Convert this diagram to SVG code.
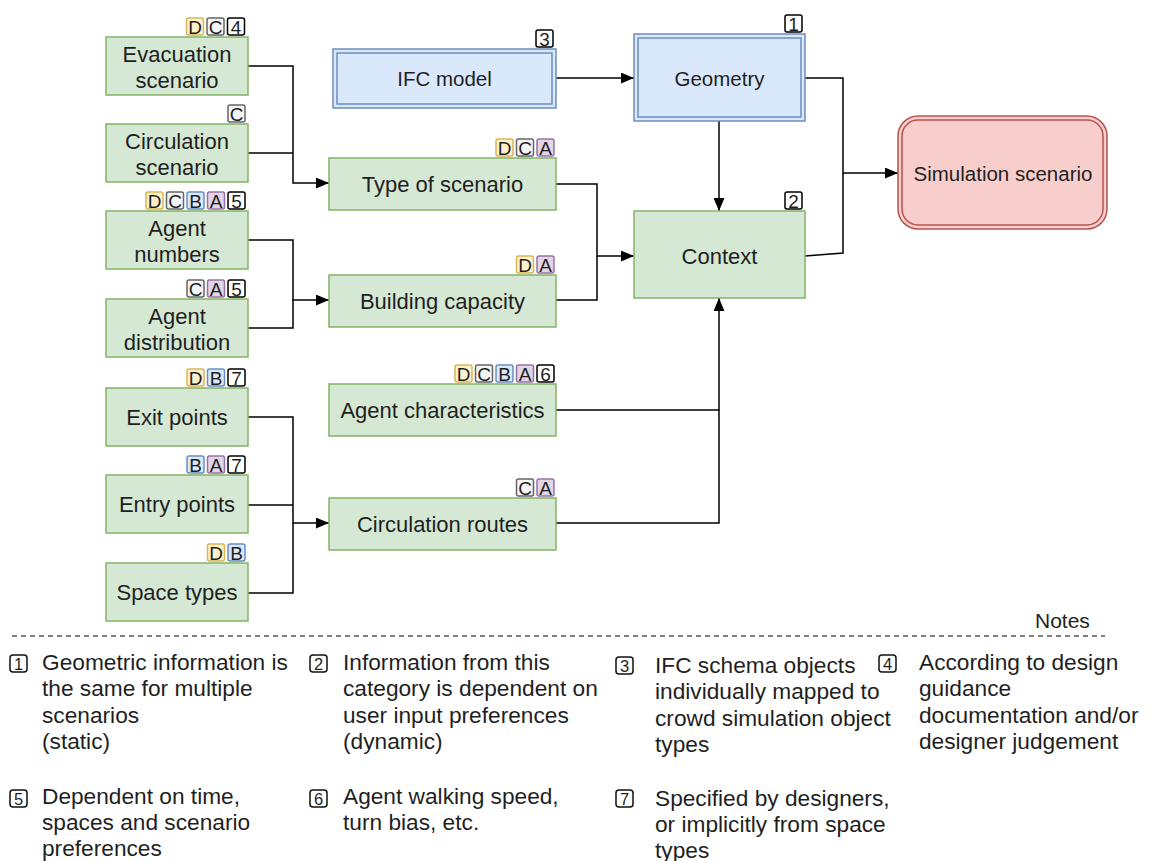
<svg xmlns="http://www.w3.org/2000/svg" width="1152" height="861" viewBox="0 0 1152 861">
  <defs>
    <marker id="arrow" viewBox="0 0 12 10" refX="12" refY="5" markerWidth="13" markerHeight="11" markerUnits="userSpaceOnUse" orient="auto">
      <path d="M0,0 L12,5 L0,10 Z" fill="#000"/>
    </marker>
  </defs>
  <style>
    text { font-family: "Liberation Sans", Arial, sans-serif; fill: #1f1f1f; }
    .box { fill: #d5e8d4; stroke: #82b366; stroke-width: 1.5; }
    .blue { fill: #dae8fc; stroke: #6c8ebf; stroke-width: 1.5; }
    .red { fill: #f8cecc; stroke: #b85450; stroke-width: 1.5; }
    .lbl { font-size: 22px; text-anchor: middle; }
    .lbl2 { font-size: 20.5px; text-anchor: middle; }
    .bD { fill: #fff2cc; stroke: #d6b656; stroke-width: 1.5; }
    .bC { fill: #f5f5f5; stroke: #666666; stroke-width: 1.5; }
    .bB { fill: #dae8fc; stroke: #6c8ebf; stroke-width: 1.5; }
    .bA { fill: #e1d5e7; stroke: #9673a6; stroke-width: 1.5; }
    .bN { fill: #ffffff; stroke: #000000; stroke-width: 1.5; }
    .bt { font-size: 19px; text-anchor: middle; }
    .edge { fill: none; stroke: #000; stroke-width: 1.5; }
    .note { font-size: 22.7px; }
    .nb { fill: #fff; stroke: #111; stroke-width: 1.5; }
    .nbt { font-size: 16.5px; text-anchor: middle; }
  </style>

  <!-- connectors -->
  <g id="connectors">
    <path class="edge" d="M248,66 H293 V183 H329" marker-end="url(#arrow)"/>
    <path class="edge" d="M248,153 H293"/>
    <path class="edge" d="M248,240 H293 V300 H329" marker-end="url(#arrow)"/>
    <path class="edge" d="M248,328 H293 V300"/>
    <path class="edge" d="M248,417 H293 V523 H329" marker-end="url(#arrow)"/>
    <path class="edge" d="M248,505 H293"/>
    <path class="edge" d="M248,593 H293 V523"/>
    <path class="edge" d="M556,184 H597 V256 H634" marker-end="url(#arrow)"/>
    <path class="edge" d="M556,300 H597 V256"/>
    <path class="edge" d="M556,410 H719 V298" marker-end="url(#arrow)"/>
    <path class="edge" d="M556,523 H719 V410"/>
    <path class="edge" d="M556,78 H634" marker-end="url(#arrow)"/>
    <path class="edge" d="M719,121 V211" marker-end="url(#arrow)"/>
    <path class="edge" d="M805,78 H843 V173 H898" marker-end="url(#arrow)"/>
    <path class="edge" d="M805,256 L843,253 V173"/>
  </g>

  <!-- input nodes (left column) -->
  <g id="evacuation-scenario">
    <rect class="box" x="106" y="37" width="142" height="58"/>
    <text class="lbl" x="177" y="62">Evacuation</text>
    <text class="lbl" x="177" y="88">scenario</text>
    <rect class="bD" x="186.5" y="18" width="17" height="17" rx="2"/><text class="bt" x="195" y="33.5">D</text>
    <rect class="bC" x="207" y="18" width="17" height="17" rx="2"/><text class="bt" x="215.5" y="33.5">C</text>
    <rect class="bN" x="227.5" y="18" width="17" height="17" rx="2"/><text class="bt" x="236" y="33.5">4</text>
  </g>
  <g id="circulation-scenario">
    <rect class="box" x="106" y="124" width="142" height="58"/>
    <text class="lbl" x="177" y="149">Circulation</text>
    <text class="lbl" x="177" y="175">scenario</text>
    <rect class="bC" x="228" y="105" width="17" height="17" rx="2"/><text class="bt" x="236.5" y="120.5">C</text>
  </g>
  <g id="agent-numbers">
    <rect class="box" x="106" y="211" width="142" height="58"/>
    <text class="lbl" x="177" y="236">Agent</text>
    <text class="lbl" x="177" y="262">numbers</text>
    <rect class="bD" x="146" y="192" width="17" height="17" rx="2"/><text class="bt" x="154.5" y="207.5">D</text>
    <rect class="bC" x="166.5" y="192" width="17" height="17" rx="2"/><text class="bt" x="175" y="207.5">C</text>
    <rect class="bB" x="187" y="192" width="17" height="17" rx="2"/><text class="bt" x="195.5" y="207.5">B</text>
    <rect class="bA" x="207.5" y="192" width="17" height="17" rx="2"/><text class="bt" x="216" y="207.5">A</text>
    <rect class="bN" x="228" y="192" width="17" height="17" rx="2"/><text class="bt" x="236.5" y="207.5">5</text>
  </g>
  <g id="agent-distribution">
    <rect class="box" x="106" y="299" width="142" height="58"/>
    <text class="lbl" x="177" y="324">Agent</text>
    <text class="lbl" x="177" y="350">distribution</text>
    <rect class="bC" x="187" y="280" width="17" height="17" rx="2"/><text class="bt" x="195.5" y="295.5">C</text>
    <rect class="bA" x="207.5" y="280" width="17" height="17" rx="2"/><text class="bt" x="216" y="295.5">A</text>
    <rect class="bN" x="228" y="280" width="17" height="17" rx="2"/><text class="bt" x="236.5" y="295.5">5</text>
  </g>
  <g id="exit-points">
    <rect class="box" x="106" y="388" width="142" height="58"/>
    <text class="lbl" x="177" y="425">Exit points</text>
    <rect class="bD" x="187" y="369" width="17" height="17" rx="2"/><text class="bt" x="195.5" y="384.5">D</text>
    <rect class="bB" x="207.5" y="369" width="17" height="17" rx="2"/><text class="bt" x="216" y="384.5">B</text>
    <rect class="bN" x="228" y="369" width="17" height="17" rx="2"/><text class="bt" x="236.5" y="384.5">7</text>
  </g>
  <g id="entry-points">
    <rect class="box" x="106" y="475" width="142" height="58"/>
    <text class="lbl" x="177" y="512">Entry points</text>
    <rect class="bB" x="187" y="456" width="17" height="17" rx="2"/><text class="bt" x="195.5" y="471.5">B</text>
    <rect class="bA" x="207.5" y="456" width="17" height="17" rx="2"/><text class="bt" x="216" y="471.5">A</text>
    <rect class="bN" x="228" y="456" width="17" height="17" rx="2"/><text class="bt" x="236.5" y="471.5">7</text>
  </g>
  <g id="space-types">
    <rect class="box" x="106" y="563" width="142" height="58"/>
    <text class="lbl" x="177" y="600">Space types</text>
    <rect class="bD" x="207.5" y="544" width="17" height="17" rx="2"/><text class="bt" x="216" y="559.5">D</text>
    <rect class="bB" x="228" y="544" width="17" height="17" rx="2"/><text class="bt" x="236.5" y="559.5">B</text>
  </g>

  <!-- intermediate nodes -->
  <g id="type-of-scenario">
    <rect class="box" x="329" y="158" width="227" height="52"/>
    <text class="lbl" x="442.5" y="192">Type of scenario</text>
    <rect class="bD" x="496" y="139" width="17" height="17" rx="2"/><text class="bt" x="504.5" y="154.5">D</text>
    <rect class="bC" x="516.5" y="139" width="17" height="17" rx="2"/><text class="bt" x="525" y="154.5">C</text>
    <rect class="bA" x="537" y="139" width="17" height="17" rx="2"/><text class="bt" x="545.5" y="154.5">A</text>
  </g>
  <g id="building-capacity">
    <rect class="box" x="329" y="275" width="227" height="52"/>
    <text class="lbl" x="442.5" y="309">Building capacity</text>
    <rect class="bD" x="516.5" y="256" width="17" height="17" rx="2"/><text class="bt" x="525" y="271.5">D</text>
    <rect class="bA" x="537" y="256" width="17" height="17" rx="2"/><text class="bt" x="545.5" y="271.5">A</text>
  </g>
  <g id="agent-characteristics">
    <rect class="box" x="329" y="384" width="227" height="52"/>
    <text class="lbl" x="442.5" y="418">Agent characteristics</text>
    <rect class="bD" x="455" y="365" width="17" height="17" rx="2"/><text class="bt" x="463.5" y="380.5">D</text>
    <rect class="bC" x="475.5" y="365" width="17" height="17" rx="2"/><text class="bt" x="484" y="380.5">C</text>
    <rect class="bB" x="496" y="365" width="17" height="17" rx="2"/><text class="bt" x="504.5" y="380.5">B</text>
    <rect class="bA" x="516.5" y="365" width="17" height="17" rx="2"/><text class="bt" x="525" y="380.5">A</text>
    <rect class="bN" x="537" y="365" width="17" height="17" rx="2"/><text class="bt" x="545.5" y="380.5">6</text>
  </g>
  <g id="circulation-routes">
    <rect class="box" x="329" y="498" width="227" height="52"/>
    <text class="lbl" x="442.5" y="532">Circulation routes</text>
    <rect class="bC" x="516.5" y="479" width="17" height="17" rx="2"/><text class="bt" x="525" y="494.5">C</text>
    <rect class="bA" x="537" y="479" width="17" height="17" rx="2"/><text class="bt" x="545.5" y="494.5">A</text>
  </g>

  <!-- model, geometry, context, output -->
  <g id="ifc-model">
    <rect class="blue" x="333" y="49" width="223" height="59"/>
    <rect class="blue" x="337" y="53" width="215" height="51"/>
    <text class="lbl2" x="444.5" y="86">IFC model</text>
    <rect class="bN" x="536" y="30" width="17" height="17" rx="2"/><text class="bt" x="544.5" y="45.5">3</text>
  </g>
  <g id="geometry">
    <rect class="blue" x="634" y="34" width="171" height="87"/>
    <rect class="blue" x="638" y="38" width="163" height="79"/>
    <text class="lbl2" x="719.5" y="86">Geometry</text>
    <rect class="bN" x="785" y="15" width="17" height="17" rx="2"/><text class="bt" x="793.5" y="30.5">1</text>
  </g>
  <g id="context">
    <rect class="box" x="634" y="211" width="171" height="87"/>
    <text class="lbl" x="719.5" y="264">Context</text>
    <rect class="bN" x="785" y="192" width="17" height="17" rx="2"/><text class="bt" x="793.5" y="207.5">2</text>
  </g>
  <g id="simulation-scenario">
    <rect class="red" x="898" y="116" width="209" height="113" rx="20"/>
    <rect class="red" x="902" y="120" width="201" height="105" rx="16"/>
    <text class="lbl2" x="1003" y="181">Simulation scenario</text>
  </g>

  <!-- notes -->
  <g id="notes">
    <text x="1035" y="628" style="font-size:21px">Notes</text>
    <line x1="12" y1="636" x2="1105" y2="636" stroke="#000" stroke-width="1.2" stroke-dasharray="5,4"/>

    <rect class="nb" x="10" y="655" width="17" height="17" rx="3"/><text class="nbt" x="18.5" y="669.5">1</text>
    <text class="note" x="42" y="670">Geometric information is</text>
    <text class="note" x="42" y="696">the same for multiple</text>
    <text class="note" x="42" y="723">scenarios</text>
    <text class="note" x="42" y="749">(static)</text>

    <rect class="nb" x="310" y="655" width="17" height="17" rx="3"/><text class="nbt" x="318.5" y="669.5">2</text>
    <text class="note" x="343" y="670">Information from this</text>
    <text class="note" x="343" y="696">category is dependent on</text>
    <text class="note" x="343" y="723">user input preferences</text>
    <text class="note" x="343" y="749">(dynamic)</text>

    <rect class="nb" x="616" y="657" width="17" height="17" rx="3"/><text class="nbt" x="624.5" y="671.5">3</text>
    <text class="note" x="655" y="673">IFC schema objects</text>
    <text class="note" x="655" y="699">individually mapped to</text>
    <text class="note" x="655" y="726">crowd simulation object</text>
    <text class="note" x="655" y="752">types</text>

    <rect class="nb" x="879" y="655" width="17" height="17" rx="3"/><text class="nbt" x="887.5" y="669.5">4</text>
    <text class="note" x="919" y="670">According to design</text>
    <text class="note" x="919" y="696">guidance</text>
    <text class="note" x="919" y="723">documentation and/or</text>
    <text class="note" x="919" y="749">designer judgement</text>

    <rect class="nb" x="10" y="790" width="17" height="17" rx="3"/><text class="nbt" x="18.5" y="804.5">5</text>
    <text class="note" x="42" y="804">Dependent on time,</text>
    <text class="note" x="42" y="830">spaces and scenario</text>
    <text class="note" x="42" y="856">preferences</text>

    <rect class="nb" x="310" y="790" width="17" height="17" rx="3"/><text class="nbt" x="318.5" y="804.5">6</text>
    <text class="note" x="343" y="804">Agent walking speed,</text>
    <text class="note" x="343" y="830">turn bias, etc.</text>

    <rect class="nb" x="616" y="790" width="17" height="17" rx="3"/><text class="nbt" x="624.5" y="804.5">7</text>
    <text class="note" x="655" y="806">Specified by designers,</text>
    <text class="note" x="655" y="832">or implicitly from space</text>
    <text class="note" x="655" y="858">types</text>
  </g>
</svg>
